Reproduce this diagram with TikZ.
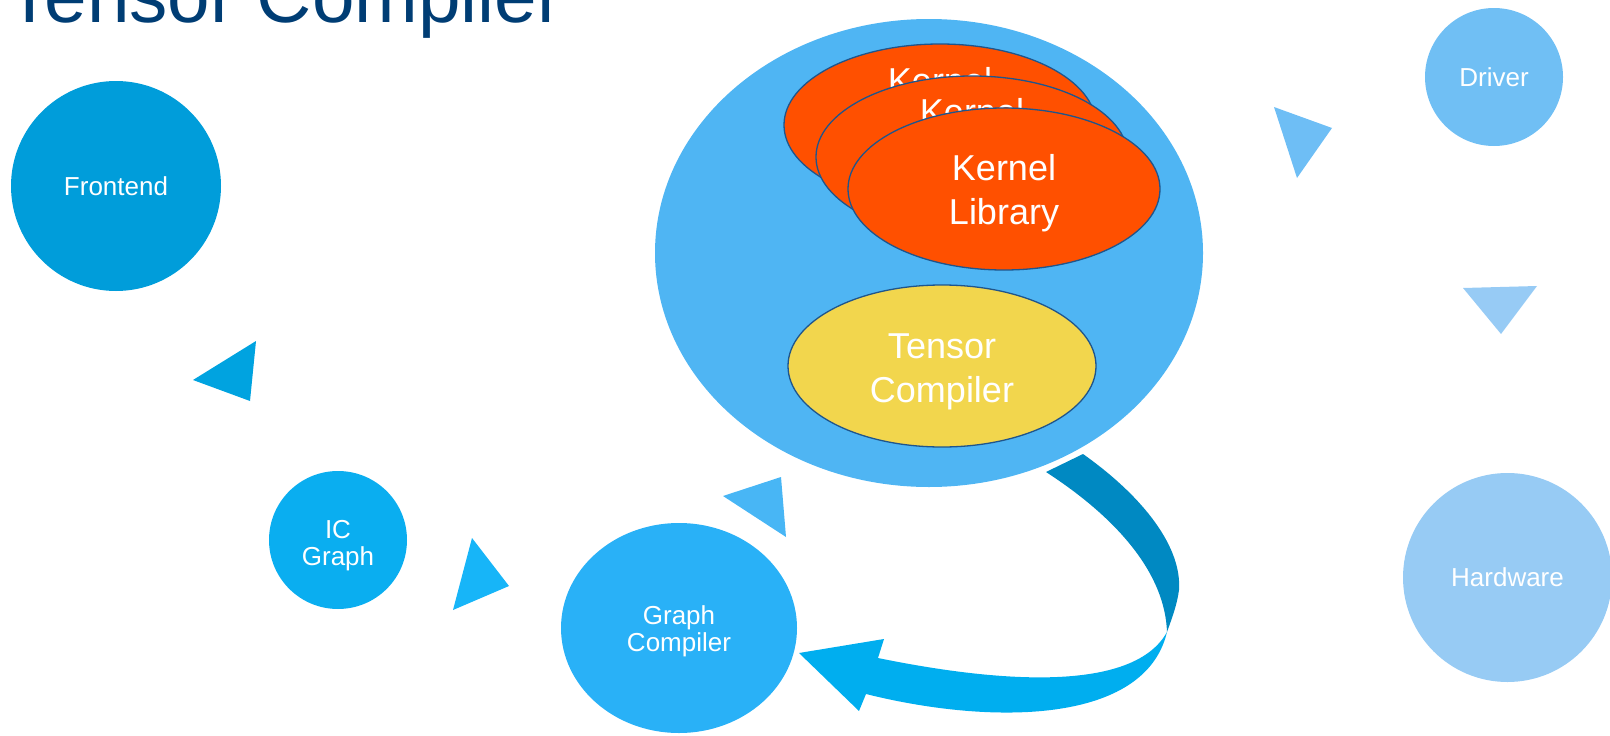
\documentclass[tikz,border=0pt]{standalone}
\usepackage{fontspec}
\setmainfont{Liberation Sans}
\usetikzlibrary{shapes.geometric}

\definecolor{titleblue}{HTML}{003D74}
\definecolor{frontblue}{HTML}{009DDA}
\definecolor{icblue}{HTML}{0AAEF0}
\definecolor{gcblue}{HTML}{29B1F7}
\definecolor{bigblue}{HTML}{4FB5F3}
\definecolor{driverblue}{HTML}{70BFF4}
\definecolor{hwblue}{HTML}{97CBF4}
\definecolor{kernelred}{HTML}{FF5000}
\definecolor{tensoryellow}{HTML}{F2D64D}
\definecolor{rimblue}{HTML}{1F558C}
\definecolor{triA}{HTML}{00A3E0}
\definecolor{triB}{HTML}{17B5F8}
\definecolor{triC}{HTML}{48B6F5}
\definecolor{triD}{HTML}{6EBEF5}
\definecolor{triE}{HTML}{97CBF5}
\definecolor{ribdark}{HTML}{0089C2}
\definecolor{riblight}{HTML}{00AEEF}

\tikzset{
  blob/.style={circle, inner sep=0pt, text=white, align=center,
    font=\fontsize{26}{27}\selectfont},
  oval/.style={ellipse, inner sep=0pt, draw=rimblue, line width=1.3pt},
  % base anchor of a multi-line node sits on its last line
  bigtext/.style={text=white, align=center, inner sep=0pt, anchor=base,
    font=\fontsize{36}{44}\selectfont},
  smalltext/.style={text=white, align=center, inner sep=0pt, anchor=base,
    font=\fontsize{26}{27}\selectfont}
}

\begin{document}
\begin{tikzpicture}[x=1pt,y=-1pt]
\useasboundingbox (0,0) rectangle (1610,736);

% title
\node[anchor=base west, inner sep=0pt, text=titleblue,
  font=\fontsize{76.5}{84}\selectfont] (title) at (6,23) {Tensor Compiler};

% outer components
\node[blob, fill=frontblue, minimum size=210pt] (frontend) at (116,186) {Frontend};
\node[blob, fill=icblue, minimum size=138pt] (ic) at (338,540) {};
\node[smalltext] (ictext) at (338,565) {IC\\Graph};
\node[ellipse, inner sep=0pt, fill=gcblue, minimum width=236pt,
  minimum height=210pt] (gc) at (679,628) {};
\node[smalltext] (gctext) at (679,651) {Graph\\Compiler};
\node[blob, fill=driverblue, minimum size=138pt] (driver) at (1494,77) {Driver};
\node[blob, fill=hwblue, minimum size=209pt] (hw) at (1507.5,577.5) {Hardware};

% central runtime blob with its libraries
\node[ellipse, inner sep=0pt, fill=bigblue, minimum width=548pt,
  minimum height=468pt] (core) at (929,253) {};
\node[oval, fill=kernelred, minimum width=312pt, minimum height=162pt] (k1) at (940,125) {};
\node[bigtext] (k1text) at (940,93) {Kernel};
\node[oval, fill=kernelred, minimum width=312pt, minimum height=162pt] (k2) at (972,157) {};
\node[bigtext] (k2text) at (972,124) {Kernel};
\node[oval, fill=kernelred, minimum width=312pt, minimum height=162pt] (k3) at (1004,189) {};
\node[bigtext] (k3text) at (1004,224) {Kernel\\Library};
\node[oval, fill=tensoryellow, minimum width=308pt, minimum height=162pt] (tc) at (942,366) {};
\node[bigtext] (tctext) at (942,402) {Tensor\\Compiler};

% flow markers
\fill[triA] (256,341) -- (193,380) -- (250,401) -- cycle;
\fill[triB] (472,538) -- (509,586) -- (453,610) -- cycle;
\fill[triC] (781,477) -- (723,496) -- (786,537) -- cycle;
\fill[triD] (1274,107) -- (1332,128) -- (1297,178) -- cycle;
\fill[triE] (1463,288) -- (1537,286) -- (1501,334) -- cycle;

% twisted return ribbon back to the graph compiler
\fill[ribdark] (1046,472) -- (1083,454)
  .. controls (1145,498) and (1182,548) .. (1179,590)
  .. controls (1177,605) and (1172,618) .. (1167,632)
  .. controls (1165,575) and (1120,520) .. (1046,472) -- cycle;
\fill[riblight] (1167,632)
  .. controls (1135,690) and (1010,685) .. (878,658)
  -- (884,639) -- (799,653) -- (859,711) -- (866,694)
  .. controls (990,725) and (1145,725) .. (1167,632) -- cycle;
\end{tikzpicture}
\end{document}
